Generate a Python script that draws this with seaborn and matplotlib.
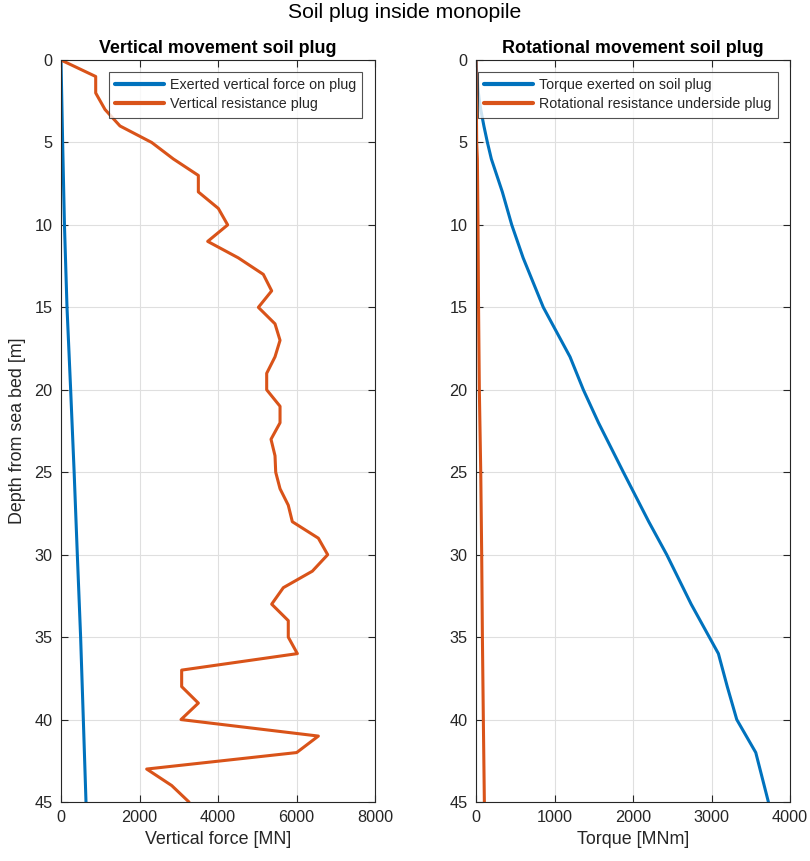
import matplotlib
matplotlib.use("Agg")
import matplotlib.pyplot as plt
import seaborn as sns
import pandas as pd

# Depth grid of the soil layers [m]
depth_layers = list(range(0, 46))

# Vertical resistance of the plug per depth [MN]
vertical_resistance = [
    0, 884, 884, 1121, 1503, 2310, 2862, 3499, 3499, 4008,
    4246, 3737, 4518, 5154, 5367, 5028, 5452, 5580, 5452, 5240,
    5240, 5580, 5580, 5350, 5452, 5470, 5580, 5790, 5893, 6556,
    6794, 6403, 5664, 5367, 5790, 5790, 6021, 3074, 3074, 3499,
    3057, 6556, 6004, 2183, 2820, 3261,
]

# Exerted vertical force on the plug [MN]
force_depth = [0, 5, 10, 15, 20, 25, 30, 35, 40, 45]
exerted_force = [0, 42, 88, 153, 246, 335, 416, 500, 569, 637]

# Torque exerted on the soil plug [MNm]
torque_depth = [0, 1, 2, 3, 4, 5, 6, 8, 10, 12, 15, 18, 20, 22, 25, 28,
                30, 33, 36, 38, 40, 42, 45]
torque_exerted = [0, 10, 30, 60, 100, 145, 195, 335, 455, 600, 857, 1197,
                  1367, 1560, 1877, 2200, 2429, 2740, 3087, 3200, 3321,
                  3563, 3724]

# Rotational resistance at the underside of the plug [MNm]
rot_depth = [0, 5, 6, 10, 15, 20, 25, 30, 35, 40, 45]
rot_resistance = [0, 8, 17, 25, 32, 42, 60, 72, 81, 93, 106]

BLUE = "#0072BD"
ORANGE = "#D95319"
DARK = "#262626"

sns.set_theme(style="whitegrid")
plt.rcParams["font.family"] = ["Liberation Sans", "DejaVu Sans"]

fig = plt.figure(figsize=(8.1, 8.61), dpi=100)
ax1 = fig.add_axes([0.0753, 0.0685, 0.3877, 0.8618])
ax2 = fig.add_axes([0.5877, 0.0685, 0.3877, 0.8618])

df_force = pd.DataFrame({"x": exerted_force, "depth": force_depth})
df_res = pd.DataFrame({"x": vertical_resistance, "depth": depth_layers})
df_torque = pd.DataFrame({"x": torque_exerted, "depth": torque_depth})
df_rot = pd.DataFrame({"x": rot_resistance, "depth": rot_depth})

lw = 2.2
sns.lineplot(data=df_force, x="x", y="depth", sort=False, estimator=None,
             color=BLUE, lw=lw, ax=ax1, label="Exerted vertical force on plug")
sns.lineplot(data=df_res, x="x", y="depth", sort=False, estimator=None,
             color=ORANGE, lw=lw, ax=ax1, label="Vertical resistance plug")
sns.lineplot(data=df_torque, x="x", y="depth", sort=False, estimator=None,
             color=BLUE, lw=lw, ax=ax2, label="Torque exerted on soil plug")
sns.lineplot(data=df_rot, x="x", y="depth", sort=False, estimator=None,
             color=ORANGE, lw=lw, ax=ax2, label="Rotational resistance underside plug")

for ax, xmax, step in [(ax1, 8000, 2000), (ax2, 4000, 1000)]:
    ax.set_xlim(0, xmax)
    ax.set_ylim(45, 0)
    ax.set_xticks(range(0, xmax + 1, step))
    ax.set_yticks(range(0, 46, 5))
    ax.set_facecolor("white")
    ax.grid(True, color="#DFDFDF", lw=0.8)
    for s in ax.spines.values():
        s.set_color(DARK)
        s.set_linewidth(0.8)
        s.set_visible(True)
    ax.tick_params(axis="both", direction="in", length=5, width=0.8,
                   colors=DARK, labelsize=11.7, top=True, right=True,
                   bottom=True, left=True, pad=6)
    ax.set_ylabel("")
    leg = ax.legend(loc="upper right", bbox_to_anchor=(0.96, 0.984),
                    fontsize=10.3, frameon=True, fancybox=False,
                    handlelength=3.4, borderpad=0.45, labelspacing=0.35,
                    handletextpad=0.4, borderaxespad=0.0)
    leg.get_frame().set_edgecolor(DARK)
    leg.get_frame().set_linewidth(0.8)
    for line in leg.get_lines():
        line.set_linewidth(3)

ax1.set_xlabel("Vertical force [MN]", fontsize=12.9, color=DARK, labelpad=4)
ax2.set_xlabel("Torque [MNm]", fontsize=12.9, color=DARK, labelpad=4)
ax1.set_ylabel("Depth from sea bed [m]", fontsize=12.9, color=DARK, labelpad=6)

ax1.set_title("Vertical movement soil plug", fontsize=12.9, fontweight="bold",
              color="black", pad=5)
ax2.set_title("Rotational movement soil plug", fontsize=12.9, fontweight="bold",
              color="black", pad=5)
fig.suptitle("Soil plug inside monopile", fontsize=15.2, color="black", y=0.997)

fig.savefig("out.png", dpi=100, facecolor="white")
